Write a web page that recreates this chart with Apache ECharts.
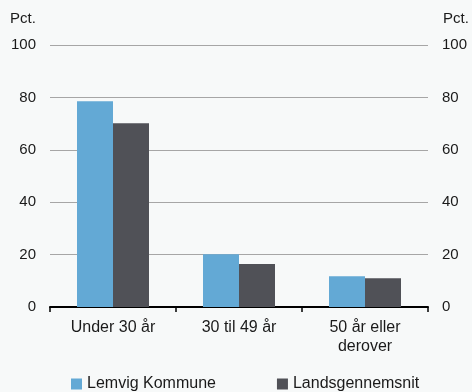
<!DOCTYPE html>
<html><head><meta charset="utf-8">
<script src="https://cdn.jsdelivr.net/npm/echarts@6/dist/echarts.min.js"></script>
<style>html,body{margin:0;padding:0;background:#f7f9f9}#c{width:472px;height:392px}</style>
</head><body><div id="c"></div>
<script>
const categories = ['Under 30 år', '30 til 49 år', '50 år eller\nderover'];
const lemvig = [78.5, 20.1, 11.7];
const lands = [70.1, 16.4, 11.0];
const seriesNames = ['Lemvig Kommune', 'Landsgennemsnit'];
const yTicks = {min: 0, max: 100, interval: 20};

const font = 'Liberation Sans, Arial, sans-serif';
const chart = echarts.init(document.getElementById('c'));
chart.setOption({
  backgroundColor: '#f7f9f9',
  animation: false,
  textStyle: {fontFamily: font},
  grid: {left: 50, right: 44, top: 45, bottom: 85},
  graphic: [
    {type: 'text', left: 10, top: 11, style: {text: 'Pct.', font: '15px ' + font, fill: '#1a1a1a'}},
    {type: 'text', left: 443, top: 11, style: {text: 'Pct.', font: '15px ' + font, fill: '#1a1a1a'}}
  ],
  legend: {
    left: 66, top: 371, itemWidth: 11, itemHeight: 11, itemGap: 61, itemTextGap: 3,
    icon: 'rect',
    textStyle: {fontSize: 16, color: '#1a1a1a', fontFamily: font},
    data: seriesNames
  },
  xAxis: {
    type: 'category', data: categories,
    axisLine: {lineStyle: {color: '#000', width: 2}},
    axisTick: {show: true, length: 5, lineStyle: {color: '#000', width: 1.5}},
    axisLabel: {fontSize: 16, color: '#1a1a1a', margin: 11, lineHeight: 19, fontFamily: font},
    splitLine: {show: false}
  },
  yAxis: [
    {type: 'value', min: yTicks.min, max: yTicks.max, interval: yTicks.interval, position: 'left',
     axisLine: {show: false}, axisTick: {show: false},
     axisLabel: {fontSize: 15, color: '#1a1a1a', margin: 14, fontFamily: font},
     splitLine: {lineStyle: {color: '#a6a6a6', width: 1}}},
    {type: 'value', min: yTicks.min, max: yTicks.max, interval: yTicks.interval, position: 'right',
     axisLine: {show: false}, axisTick: {show: false},
     axisLabel: {fontSize: 15, color: '#1a1a1a', margin: 14, fontFamily: font},
     splitLine: {show: false}}
  ],
  series: [
    {name: seriesNames[0], type: 'bar', data: lemvig, barWidth: 36, barGap: '0%',
     itemStyle: {color: '#63a9d5'}},
    {name: seriesNames[1], type: 'bar', data: lands, barWidth: 36, barGap: '0%',
     itemStyle: {color: '#505157'}}
  ]
});
</script></body></html>
